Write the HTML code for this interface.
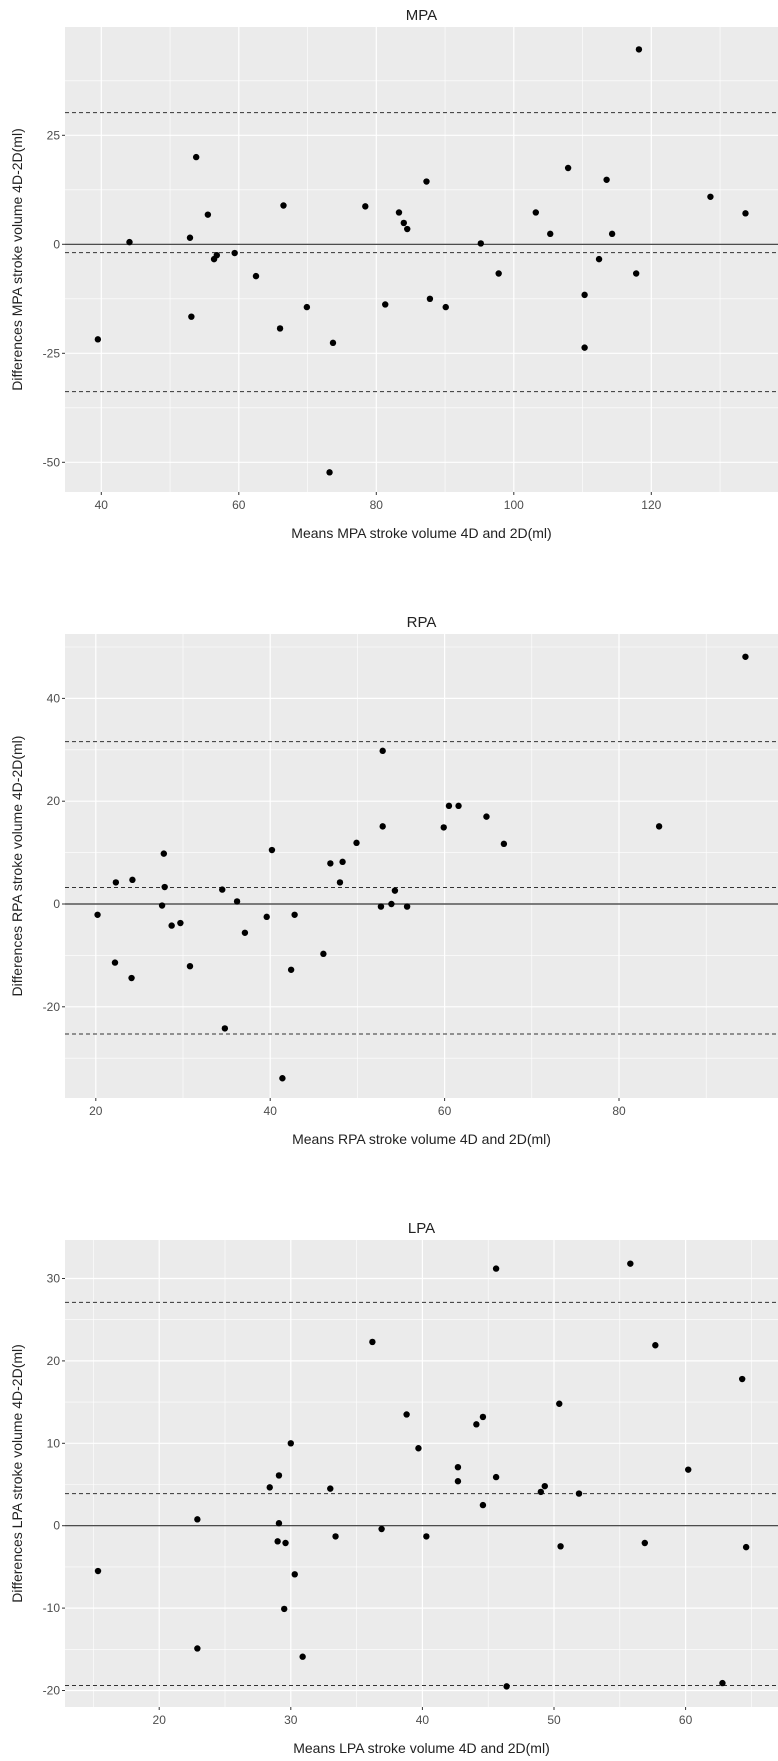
<!DOCTYPE html>
<html><head><meta charset="utf-8"><style>
html,body{margin:0;padding:0;background:#fff;}
svg{display:block;font-family:"Liberation Sans",sans-serif;}
</style></head><body>
<svg id="chart" width="778" height="1761" viewBox="0 0 778 1761" xmlns="http://www.w3.org/2000/svg"></svg>
<script>
// MPA data
const mpaX = [39.5,44.1,52.9,53.8,53.1,55.5,56.4,56.8,59.4,62.5,66.0,66.5,69.9,73.7,73.2,78.4,81.3,83.3,84.0,84.5,87.3,87.8,90.1,95.2,97.8,103.2,105.3,107.9,110.3,110.3,112.4,113.5,114.3,117.8,118.2,128.6,133.7];
const mpaY = [-21.8,0.5,1.5,20.0,-16.6,6.8,-3.4,-2.5,-2.0,-7.3,-19.3,8.9,-14.4,-22.6,-52.3,8.7,-13.8,7.3,4.9,3.5,14.4,-12.5,-14.4,0.2,-6.7,7.3,2.4,17.5,-11.6,-23.7,-3.4,14.8,2.4,-6.7,44.7,10.9,7.1];
const mpaLines = [30.2,-1.9,-33.8];
const mpaXTicks = [40,60,80,100,120];
const mpaYTicks = [25,0,-25,-50];
// RPA data
const rpaX = [20.2,22.3,22.2,24.2,24.1,27.8,27.9,27.6,28.7,29.7,30.8,34.5,34.8,36.2,37.1,39.6,40.2,41.4,42.4,42.8,46.1,46.9,48.3,48.0,49.9,52.9,52.9,52.7,53.9,54.3,55.7,59.9,60.5,61.6,64.8,66.8,84.6,94.5];
const rpaY = [-2.1,4.2,-11.4,4.7,-14.4,9.8,3.3,-0.3,-4.2,-3.7,-12.1,2.8,-24.2,0.5,-5.6,-2.5,10.5,-33.9,-12.8,-2.1,-9.7,7.9,8.2,4.2,11.9,29.8,15.1,-0.5,0,2.6,-0.5,14.9,19.1,19.1,17.0,11.7,15.1,48.1];
const rpaLines = [31.6,3.2,-25.3];
const rpaXTicks = [20,40,60,80];
const rpaYTicks = [40,20,0,-20];
// LPA data
const lpaX = [15.35,22.9,22.9,28.4,29.1,29.1,29.0,29.6,29.5,30.0,30.3,30.9,33.0,33.4,36.2,36.9,38.8,39.7,40.3,42.7,42.7,44.1,44.6,44.6,45.6,45.6,46.4,49.0,49.3,50.4,50.5,51.9,55.8,56.9,57.7,60.2,62.8,64.3,64.6];
const lpaY = [-5.5,0.77,-14.9,4.65,6.1,0.3,-1.9,-2.1,-10.1,10.0,-5.9,-15.9,4.5,-1.3,22.3,-0.4,13.5,9.4,-1.3,7.1,5.4,12.3,13.2,2.5,31.2,5.9,-19.5,4.1,4.8,14.8,-2.5,3.9,31.8,-2.1,21.9,6.8,-19.1,17.8,-2.6];
const lpaLines = [27.1,3.9,-19.4];
const lpaXTicks = [20,30,40,50,60];
const lpaYTicks = [30,20,10,0,-10,-20];

const NS = "http://www.w3.org/2000/svg";
const svg = document.getElementById('chart');
function mk(tag, attrs, parent){const e=document.createElementNS(NS,tag);for(const k in attrs)e.setAttribute(k,attrs[k]);(parent||svg).appendChild(e);return e;}

function panel(cfg){
  const g = mk('g',{});
  
  
  const sx = v => cfg.x0px + (v - cfg.x0v) * cfg.xs;
  const sy = v => cfg.y0px - (v - cfg.y0v) * cfg.ys;
  const L=cfg.left,R=cfg.right,T=cfg.top,B=cfg.bottom;
  const bg = mk('rect',{x:L,y:T,width:R-L,height:B-T,fill:'#ebebeb'},g);
  
  
  const xv0 = cfg.x0v + (L-cfg.x0px)/cfg.xs, xv1 = cfg.x0v + (R-cfg.x0px)/cfg.xs;
  const yv0 = cfg.y0v - (B-cfg.y0px)/cfg.ys, yv1 = cfg.y0v - (T-cfg.y0px)/cfg.ys;
  const xst = cfg.xTicks[1]-cfg.xTicks[0], yst = Math.abs(cfg.yTicks[1]-cfg.yTicks[0]);
  // minor grid
  for(let v=cfg.xTicks[0]-xst*5.5; v<=xv1; v+=xst){ if(v>=xv0) mk('line',{x1:sx(v),x2:sx(v),y1:T,y2:B,stroke:'#fff','stroke-width':0.6},g); }
  const ymin=Math.min(...cfg.yTicks);
  for(let v=ymin-yst*5.5; v<=yv1; v+=yst){ if(v>=yv0) mk('line',{x1:L,x2:R,y1:sy(v),y2:sy(v),stroke:'#fff','stroke-width':0.6},g); }
  // major grid + ticks
  cfg.xTicks.forEach(v=>{
    mk('line',{x1:sx(v),x2:sx(v),y1:T,y2:B,stroke:'#fff','stroke-width':1.2},g);
    mk('line',{x1:sx(v),x2:sx(v),y1:B,y2:B+3,stroke:'#333','stroke-width':1},g);
    const t=mk('text',{x:sx(v),y:B+17,'text-anchor':'middle','font-size':12,fill:'#4d4d4d'},g);
    t.textContent=v;
    
    
  });
  cfg.yTicks.forEach(v=>{
    mk('line',{x1:L,x2:R,y1:sy(v),y2:sy(v),stroke:'#fff','stroke-width':1.2},g);
    mk('line',{x1:L-3,x2:L,y1:sy(v),y2:sy(v),stroke:'#333','stroke-width':1},g);
    const t=mk('text',{x:L-5,y:sy(v)+4,'text-anchor':'end','font-size':12,fill:'#4d4d4d'},g);
    t.textContent=v;
    
    
  });
  // zero line
  const z=mk('line',{x1:L,x2:R,y1:sy(0),y2:sy(0),stroke:'#333','stroke-width':1.2},g);
  
  
  const ln=['upper-loa-line','mean-difference-line','lower-loa-line'];
  cfg.lines.forEach((v,i)=>{
    const l=mk('line',{x1:L,x2:R,y1:sy(v),y2:sy(v),stroke:'#333','stroke-width':1,'stroke-dasharray':'4,3'},g);
    
    
  });
  cfg.xs_.forEach((v,i)=>{
    const c=mk('circle',{cx:sx(v),cy:sy(cfg.ys_[i]),r:3.2,fill:'#000'},g);
    
    
  });
  const tt=mk('text',{x:(L+R)/2,y:T-7,'text-anchor':'middle','font-size':15,fill:'#222'},g);
  tt.textContent=cfg.title;
  
  
  const xt=mk('text',{x:(L+R)/2,y:B+46,'text-anchor':'middle','font-size':14,fill:'#222'},g);
  xt.textContent=cfg.xlabel;
  
  
  const cy=(T+B)/2;
  const yt=mk('text',{x:22,y:cy,'text-anchor':'middle','font-size':14,fill:'#222',transform:`rotate(-90 22 ${cy})`},g);
  yt.textContent=cfg.ylabel;
  
  
}

panel({key:'mpa',title:'MPA',left:65,right:778,top:27,bottom:492,
  x0v:40,x0px:101.3,xs:6.875,y0v:0,y0px:244.3,ys:4.36,
  xTicks:mpaXTicks,yTicks:mpaYTicks,lines:mpaLines,xs_:mpaX,ys_:mpaY,
  xlabel:'Means MPA stroke volume 4D and 2D(ml)',ylabel:'Differences MPA stroke volume 4D-2D(ml)'});
panel({key:'rpa',title:'RPA',left:65,right:778,top:634,bottom:1098,
  x0v:20,x0px:95.8,xs:8.72,y0v:0,y0px:904,ys:5.14,
  xTicks:rpaXTicks,yTicks:rpaYTicks,lines:rpaLines,xs_:rpaX,ys_:rpaY,
  xlabel:'Means RPA stroke volume 4D and 2D(ml)',ylabel:'Differences RPA stroke volume 4D-2D(ml)'});
panel({key:'lpa',title:'LPA',left:65,right:778,top:1240,bottom:1707,
  x0v:20,x0px:159.2,xs:13.16,y0v:0,y0px:1525.7,ys:8.24,
  xTicks:lpaXTicks,yTicks:lpaYTicks,lines:lpaLines,xs_:lpaX,ys_:lpaY,
  xlabel:'Means LPA stroke volume 4D and 2D(ml)',ylabel:'Differences LPA stroke volume 4D-2D(ml)'});
</script>
</body></html>
